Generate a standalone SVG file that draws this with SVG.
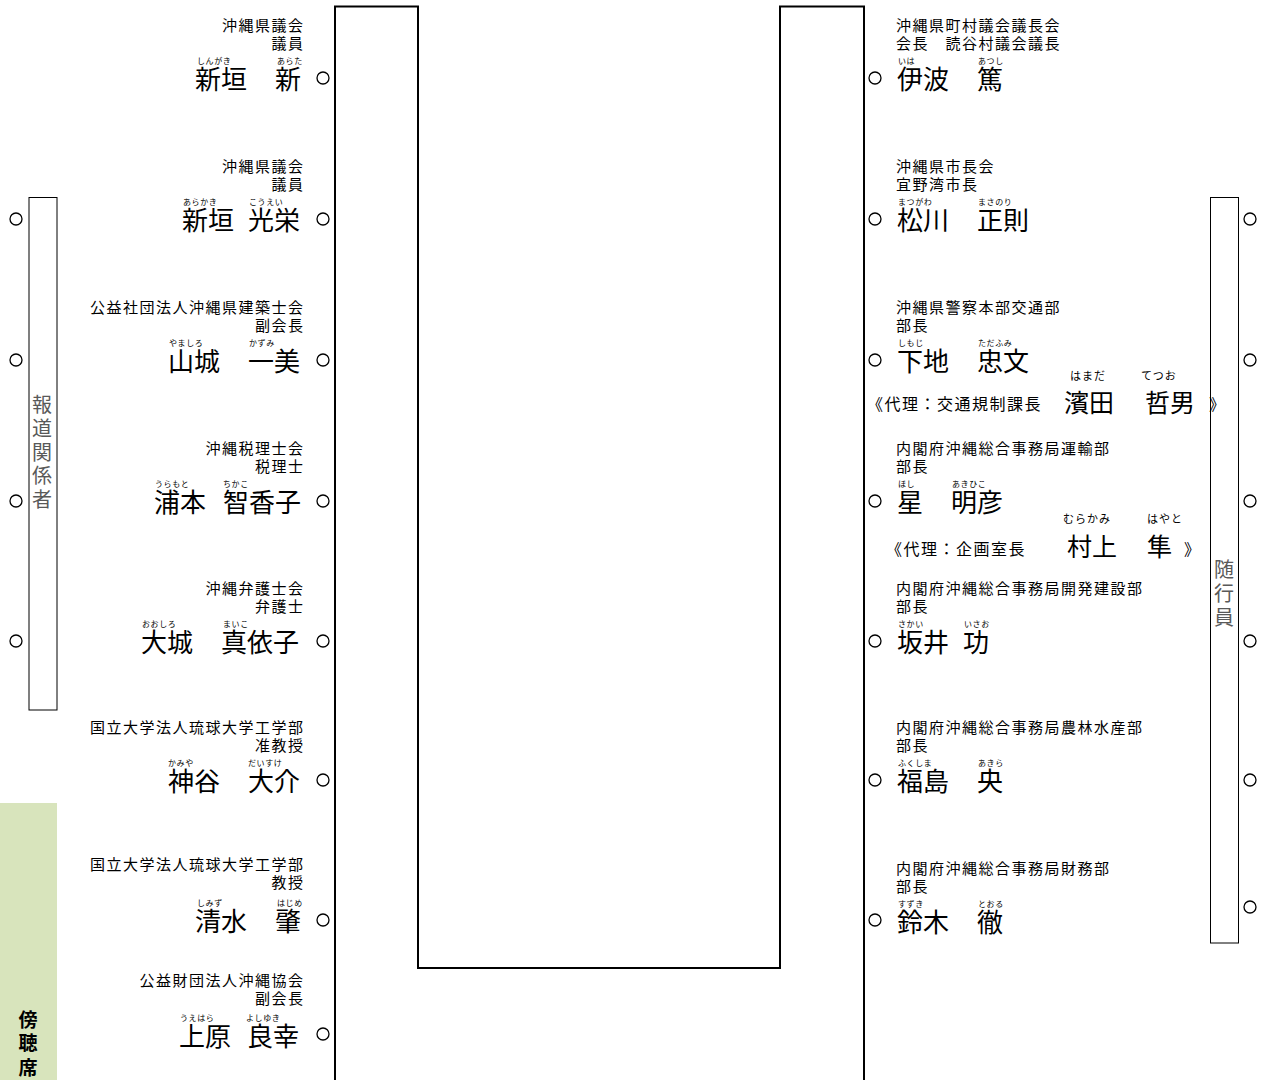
<svg xmlns="http://www.w3.org/2000/svg" width="1263" height="1080" viewBox="0 0 1263 1080">
<style>
text{font-family:"Noto Sans CJK JP","Noto Sans",sans-serif;fill:#000}
.org{font-size:15px;letter-spacing:1.5px}
.px{font-size:16px;letter-spacing:1.5px}
.e{text-anchor:end}
.nm{font-size:26px}
.nm2{font-size:25px}
.rb{font-size:8px;letter-spacing:0.6px}
.rb2{font-size:11px;letter-spacing:1px}
.side{font-size:20px;fill:#595959;text-anchor:middle}
.gal{font-size:19px;font-weight:bold;text-anchor:middle}
.seat{fill:#fff;stroke:#000;stroke-width:1.3}
.box{fill:none;stroke:#000;stroke-width:1}
</style>
<rect width="1263" height="1080" fill="#fff"/>
<g id="connectors">
<path d="M335,1080 V6.5 H418 V968 H780 V6.5 H864 V1080" fill="none" stroke="#000" stroke-width="2"/>
</g>
<g id="press">
<rect class="box" x="29" y="197.5" width="28" height="512.5"/>
<text class="side" x="42" y="412">報</text>
<text class="side" x="42" y="436">道</text>
<text class="side" x="42" y="460">関</text>
<text class="side" x="42" y="483">係</text>
<text class="side" x="42" y="507">者</text>
<circle class="seat" cx="16" cy="219" r="6"/>
<circle class="seat" cx="16" cy="360" r="6"/>
<circle class="seat" cx="16" cy="501" r="6"/>
<circle class="seat" cx="16" cy="641" r="6"/>
</g>
<g id="gallery">
<rect x="0" y="803" width="57" height="277" fill="#d8e4bc"/>
<text class="gal" x="28" y="1027">傍</text>
<text class="gal" x="28" y="1050">聴</text>
<text class="gal" x="28" y="1075">席</text>
</g>
<g id="attendants">
<rect class="box" x="1210.5" y="197.5" width="28" height="745.5"/>
<text class="side" x="1224" y="577">随</text>
<text class="side" x="1224" y="601">行</text>
<text class="side" x="1224" y="625">員</text>
<circle class="seat" cx="1250" cy="219" r="6"/>
<circle class="seat" cx="1250" cy="360" r="6"/>
<circle class="seat" cx="1250" cy="501" r="6"/>
<circle class="seat" cx="1250" cy="641" r="6"/>
<circle class="seat" cx="1250" cy="780" r="6"/>
<circle class="seat" cx="1250" cy="907" r="6"/>
</g>
<g id="L1">
<text class="org e" x="304.5" y="31">沖縄県議会</text>
<text class="org e" x="304.5" y="49">議員</text>
<text class="rb" x="197" y="64">しんがき</text><text class="rb" x="277" y="64">あらた</text>
<text class="nm" x="195" y="89">新垣</text><text class="nm" x="275" y="89">新</text>
<circle class="seat" cx="323" cy="78" r="6"/>
</g>
<g id="L2">
<text class="org e" x="304.5" y="172">沖縄県議会</text>
<text class="org e" x="304.5" y="190">議員</text>
<text class="rb" x="183" y="205">あらかき</text><text class="rb" x="249" y="205">こうえい</text>
<text class="nm" x="182" y="230">新垣</text><text class="nm" x="248" y="230">光栄</text>
<circle class="seat" cx="323" cy="219" r="6"/>
</g>
<g id="L3">
<text class="org e" x="304.5" y="313">公益社団法人沖縄県建築士会</text>
<text class="org e" x="304.5" y="331">副会長</text>
<text class="rb" x="169" y="346">やましろ</text><text class="rb" x="249" y="346">かずみ</text>
<text class="nm" x="168" y="371">山城</text><text class="nm" x="248" y="371">一美</text>
<circle class="seat" cx="323" cy="360" r="6"/>
</g>
<g id="L4">
<text class="org e" x="304.5" y="454">沖縄税理士会</text>
<text class="org e" x="304.5" y="472">税理士</text>
<text class="rb" x="155" y="487">うらもと</text><text class="rb" x="223" y="487">ちかこ</text>
<text class="nm" x="154" y="512">浦本</text><text class="nm" x="223" y="512">智香子</text>
<circle class="seat" cx="323" cy="501" r="6"/>
</g>
<g id="L5">
<text class="org e" x="304.5" y="594">沖縄弁護士会</text>
<text class="org e" x="304.5" y="612">弁護士</text>
<text class="rb" x="142" y="627">おおしろ</text><text class="rb" x="223" y="627">まいこ</text>
<text class="nm" x="141" y="652">大城</text><text class="nm" x="221" y="652">真依子</text>
<circle class="seat" cx="323" cy="641" r="6"/>
</g>
<g id="L6">
<text class="org e" x="304.5" y="733">国立大学法人琉球大学工学部</text>
<text class="org e" x="304.5" y="751">准教授</text>
<text class="rb" x="168" y="766">かみや</text><text class="rb" x="248" y="766">だいすけ</text>
<text class="nm" x="168" y="791">神谷</text><text class="nm" x="248" y="791">大介</text>
<circle class="seat" cx="323" cy="780" r="6"/>
</g>
<g id="L7">
<text class="org e" x="304.5" y="870">国立大学法人琉球大学工学部</text>
<text class="org e" x="304.5" y="888">教授</text>
<text class="rb" x="197" y="906">しみず</text><text class="rb" x="277" y="906">はじめ</text>
<text class="nm" x="195" y="931">清水</text><text class="nm" x="275" y="931">肇</text>
<circle class="seat" cx="323" cy="920" r="6"/>
</g>
<g id="L8">
<text class="org e" x="304.5" y="986">公益財団法人沖縄協会</text>
<text class="org e" x="304.5" y="1004">副会長</text>
<text class="rb" x="180" y="1021">うえはら</text><text class="rb" x="246" y="1021">よしゆき</text>
<text class="nm" x="179" y="1046">上原</text><text class="nm" x="247" y="1046">良幸</text>
<circle class="seat" cx="323" cy="1034" r="6"/>
</g>
<g id="R1">
<text class="org" x="896" y="31">沖縄県町村議会議長会</text>
<text class="org" x="896" y="49">会長　読谷村議会議長</text>
<text class="rb" x="898" y="64">いは</text><text class="rb" x="978" y="64">あつし</text>
<text class="nm" x="897" y="89">伊波</text><text class="nm" x="977" y="89">篤</text>
<circle class="seat" cx="875" cy="78" r="6"/>
</g>
<g id="R2">
<text class="org" x="896" y="172">沖縄県市長会</text>
<text class="org" x="896" y="190">宜野湾市長</text>
<text class="rb" x="898" y="205">まつがわ</text><text class="rb" x="978" y="205">まさのり</text>
<text class="nm" x="897" y="230">松川</text><text class="nm" x="977" y="230">正則</text>
<circle class="seat" cx="875" cy="219" r="6"/>
</g>
<g id="R3">
<text class="org" x="896" y="313">沖縄県警察本部交通部</text>
<text class="org" x="896" y="331">部長</text>
<text class="rb" x="898" y="346">しもじ</text><text class="rb" x="978" y="346">ただふみ</text>
<text class="nm" x="897" y="371">下地</text><text class="nm" x="977" y="371">忠文</text>
<circle class="seat" cx="875" cy="360" r="6"/>
<text class="px" x="867" y="410">《代理：交通規制課長</text>
<text class="rb2" x="1070" y="380">はまだ</text><text class="rb2" x="1141" y="380">てつお</text>
<text class="nm2" x="1064" y="412">濱田</text><text class="nm2" x="1145" y="412">哲男</text>
<text class="px" x="1209" y="410">》</text>
</g>
<g id="R4">
<text class="org" x="896" y="454">内閣府沖縄総合事務局運輸部</text>
<text class="org" x="896" y="472">部長</text>
<text class="rb" x="898" y="487">ほし</text><text class="rb" x="952" y="487">あきひこ</text>
<text class="nm" x="897" y="512">星</text><text class="nm" x="951" y="512">明彦</text>
<circle class="seat" cx="875" cy="501" r="6"/>
<text class="px" x="886" y="555">《代理：企画室長</text>
<text class="rb2" x="1063" y="523">むらかみ</text><text class="rb2" x="1147" y="523">はやと</text>
<text class="nm2" x="1067" y="556">村上</text><text class="nm2" x="1147" y="556">隼</text>
<text class="px" x="1184" y="555">》</text>
</g>
<g id="R5">
<text class="org" x="896" y="594">内閣府沖縄総合事務局開発建設部</text>
<text class="org" x="896" y="612">部長</text>
<text class="rb" x="898" y="627">さかい</text><text class="rb" x="964" y="627">いさお</text>
<text class="nm" x="897" y="652">坂井</text><text class="nm" x="963" y="652">功</text>
<circle class="seat" cx="875" cy="641" r="6"/>
</g>
<g id="R6">
<text class="org" x="896" y="733">内閣府沖縄総合事務局農林水産部</text>
<text class="org" x="896" y="751">部長</text>
<text class="rb" x="898" y="766">ふくしま</text><text class="rb" x="978" y="766">あきら</text>
<text class="nm" x="897" y="791">福島</text><text class="nm" x="977" y="791">央</text>
<circle class="seat" cx="875" cy="780" r="6"/>
</g>
<g id="R7">
<text class="org" x="896" y="874">内閣府沖縄総合事務局財務部</text>
<text class="org" x="896" y="892">部長</text>
<text class="rb" x="898" y="907">すずき</text><text class="rb" x="978" y="907">とおる</text>
<text class="nm" x="897" y="932">鈴木</text><text class="nm" x="977" y="932">徹</text>
<circle class="seat" cx="875" cy="920" r="6"/>
</g>
</svg>
